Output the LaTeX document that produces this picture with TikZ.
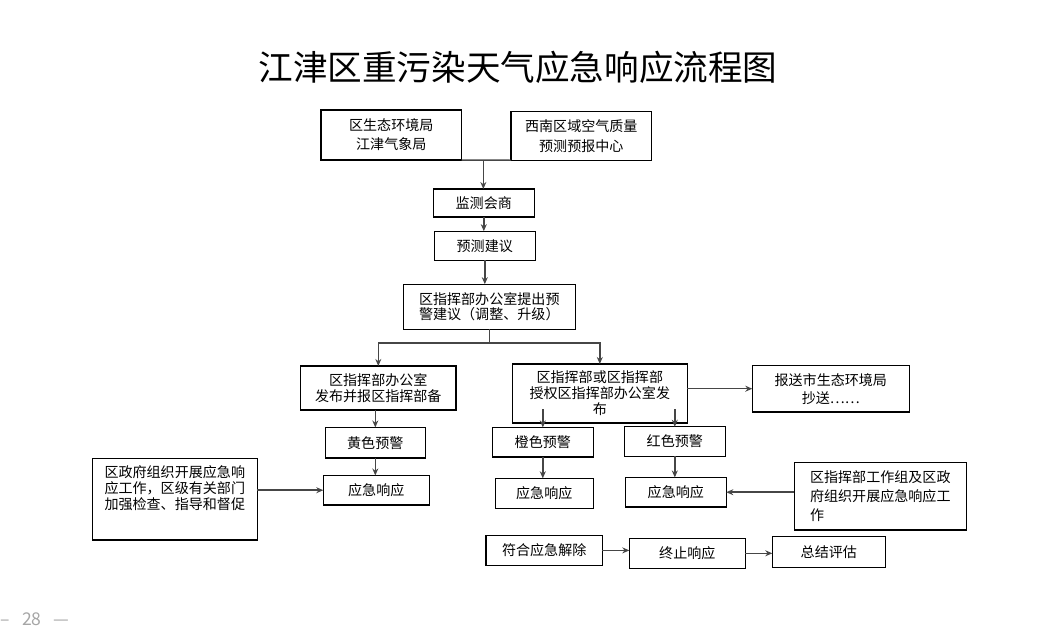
\documentclass[tikz,border=0pt]{standalone}
\usepackage{fontspec}
\usepackage{xcolor}
\usetikzlibrary{arrows.meta,positioning}
\newfontfamily\cjk{Noto Sans CJK SC}
\definecolor{linegray}{RGB}{70,70,70}

\begin{document}
\begin{tikzpicture}[
    x=0.02cm, y=-0.02cm,
    box/.style={rectangle, draw=black, line width=0.75pt, inner sep=1pt, outer sep=0pt, align=center, font=\cjk\fontsize{8}{9.1}\selectfont},
    arrow/.style={-{Stealth[length=4pt,width=3.4pt]}, draw=linegray, line width=0.85pt},
    link/.style={draw=linegray, line width=0.85pt}
]
    \useasboundingbox (0,0) rectangle (1038,630);

    \node[font=\cjk\fontsize{19.7}{22}\selectfont] (title) at (518,67) {江津区重污染天气应急响应流程图};

    \node[box, minimum width=2.81cm, minimum height=1.0cm, font=\cjk\fontsize{8}{10.8}\selectfont] (eco) at (391.3,135) {区生态环境局\\江津气象局};
    \node[box, minimum width=2.81cm, minimum height=0.97cm, font=\cjk\fontsize{8}{11.2}\selectfont] (center) at (581.3,136) {西南区域空气质量\\预测预报中心};
    \node[box, minimum width=2.02cm, minimum height=0.56cm] (consult) at (483.8,203) {监测会商};
    \node[box, minimum width=2.02cm, minimum height=0.58cm] (advice) at (484.8,245.7) {预测建议};
    \node[box, minimum width=3.44cm, minimum height=0.9cm, font=\cjk\fontsize{8}{8.6}\selectfont] (office) at (489.3,306.7) {区指挥部办公室提出预\\警建议（调整、升级）};

    \node[box, minimum width=3.11cm, minimum height=0.88cm] (yellowpub) at (378.3,388) {区指挥部办公室\\发布并报区指挥部备};
    \node[box, minimum width=3.5cm, minimum height=1.18cm] (hqpub) at (599.8,393.5) {区指挥部或区指挥部\\授权区指挥部办公室发\\布};
    \node[box, minimum width=3.14cm, minimum height=0.93cm, font=\cjk\fontsize{8}{10.2}\selectfont] (report) at (830.8,388.7) {报送市生态环境局\\抄送……};

    \node[box, minimum width=2.0cm, minimum height=0.61cm] (yellow) at (375.3,442.7) {黄色预警};
    \node[box, minimum width=2.02cm, minimum height=0.59cm] (orange) at (542.8,442.2) {橙色预警};
    \node[box, minimum width=2.02cm, minimum height=0.59cm] (red) at (674.8,441.5) {红色预警};

    \node[box, minimum width=2.12cm, minimum height=0.59cm] (resyellow) at (376.3,490.2) {应急响应};
    \node[box, minimum width=1.96cm, minimum height=0.6cm] (resorange) at (544.3,493.3) {应急响应};
    \node[box, minimum width=2.02cm, minimum height=0.59cm] (resred) at (675.8,492.2) {应急响应};

    \node[box, minimum width=3.3cm, minimum height=1.63cm] (gov) at (174.8,499.2) {};
    \node[anchor=north, align=center, inner sep=0pt, font=\cjk\fontsize{8}{9.1}\selectfont] (govtext) at ([yshift=-0.13cm]gov.north) {区政府组织开展应急响\\应工作，区级有关部门\\加强检查、指导和督促};
    \node[box, minimum width=3.44cm, minimum height=1.35cm, align=left, font=\cjk\fontsize{8}{10.8}\selectfont] (team) at (880.3,496.2) {区指挥部工作组及区政\\府组织开展应急响应工\\作};

    \node[box, minimum width=2.33cm, minimum height=0.59cm] (lift) at (544.2,550.4) {符合应急解除};
    \node[box, minimum width=2.32cm, minimum height=0.6cm] (stop) at (687.3,553.3) {终止响应};
    \node[box, minimum width=2.26cm, minimum height=0.61cm] (review) at (828.8,552) {总结评估};

    \node[anchor=base west, inner sep=0pt, text=gray!70, font=\cjk\fontsize{10}{11}\selectfont] (page) at (0,625) {–\hspace{0.7em}28\hspace{0.7em}—};

    \draw[link] (eco.south east) -- coordinate[pos=0.44] (join) (center.south west);
    \draw[arrow] (join) -- (join |- consult.north);
    \draw[arrow] (consult.south) -- (consult.south |- advice.north);
    \draw[arrow] (advice.south) -- (advice.south |- office.north);
    \draw[link] (office.south) -- ++(0,14) coordinate (split);
    \draw[arrow] (split) -| (yellowpub.north);
    \draw[arrow] (split) -| (hqpub.north);

    \draw[arrow] (yellow.north |- yellowpub.south) -- (yellow.north);
    \draw[arrow] (yellow.south) -- (yellow.south |- resyellow.north);
    \draw[arrow] ([yshift=0.28cm]hqpub.south -| orange.north) -- (orange.north);
    \draw[arrow] ([yshift=0.28cm]hqpub.south -| red.north) -- (red.north);
    \draw[arrow] (orange.south) -- (orange.south |- resorange.north);
    \draw[arrow] (red.south) -- (red.south |- resred.north);
    \draw[arrow] (report.west -| hqpub.east) -- (report.west);

    \draw[arrow] (resyellow.west -| gov.east) -- (resyellow.west);
    \draw[arrow] (resred.east -| team.west) -- (resred.east);

    \draw[arrow] (lift.east) -- (lift.east -| stop.west);
    \draw[arrow] (stop.east) -- (stop.east -| review.west);
\end{tikzpicture}
\end{document}
